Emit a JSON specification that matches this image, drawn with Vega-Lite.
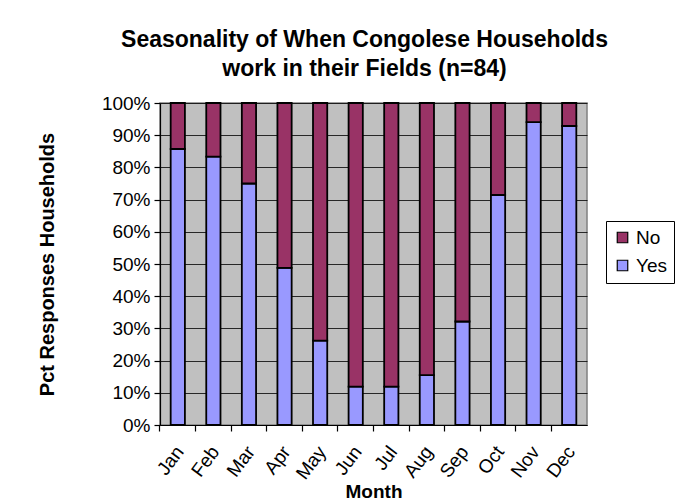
{
  "$schema": "https://vega.github.io/schema/vega-lite/v6.json",
  "autosize": "none",
  "width": 427,
  "height": 322,
  "padding": {"left": 160, "top": 103, "right": 104, "bottom": 79},
  "background": "white",
  "title": {
    "text": ["Seasonality of When Congolese Households", "work in their Fields (n=84)"],
    "font": "Liberation Sans",
    "fontSize": 23,
    "fontWeight": "bold",
    "color": "black",
    "lineHeight": 29,
    "anchor": "middle",
    "frame": "group",
    "dx": -9,
    "offset": 13
  },
  "data": {
    "values": [
      {"month": "Jan", "response": "Yes", "count": 72}, {"month": "Jan", "response": "No", "count": 12},
      {"month": "Feb", "response": "Yes", "count": 70}, {"month": "Feb", "response": "No", "count": 14},
      {"month": "Mar", "response": "Yes", "count": 63}, {"month": "Mar", "response": "No", "count": 21},
      {"month": "Apr", "response": "Yes", "count": 41}, {"month": "Apr", "response": "No", "count": 43},
      {"month": "May", "response": "Yes", "count": 22}, {"month": "May", "response": "No", "count": 62},
      {"month": "Jun", "response": "Yes", "count": 10}, {"month": "Jun", "response": "No", "count": 74},
      {"month": "Jul", "response": "Yes", "count": 10}, {"month": "Jul", "response": "No", "count": 74},
      {"month": "Aug", "response": "Yes", "count": 13}, {"month": "Aug", "response": "No", "count": 71},
      {"month": "Sep", "response": "Yes", "count": 27}, {"month": "Sep", "response": "No", "count": 57},
      {"month": "Oct", "response": "Yes", "count": 60}, {"month": "Oct", "response": "No", "count": 24},
      {"month": "Nov", "response": "Yes", "count": 79}, {"month": "Nov", "response": "No", "count": 5},
      {"month": "Dec", "response": "Yes", "count": 78}, {"month": "Dec", "response": "No", "count": 6}
    ]
  },
  "mark": {"type": "bar", "stroke": "black", "strokeWidth": 1.8},
  "encoding": {
    "x": {
      "field": "month",
      "type": "nominal",
      "sort": ["Jan", "Feb", "Mar", "Apr", "May", "Jun", "Jul", "Aug", "Sep", "Oct", "Nov", "Dec"],
      "scale": {"paddingInner": 0.6, "paddingOuter": 0.3},
      "axis": {
        "title": "Month",
        "labelAngle": -53,
        "bandPosition": -0.75,
        "labelOffset": 2,
        "tickSize": 6,
        "labelPadding": 17,
        "titlePadding": 0
      }
    },
    "y": {
      "aggregate": "sum",
      "field": "count",
      "type": "quantitative",
      "stack": "normalize",
      "scale": {"domain": [0, 1], "nice": false},
      "axis": {
        "title": "Pct Responses Households",
        "format": ".0%",
        "values": [0, 0.1, 0.2, 0.3, 0.4, 0.5, 0.6, 0.7, 0.8, 0.9, 1],
        "tickSize": 6,
        "labelPadding": 4,
        "titlePadding": 44,
        "titleFontSize": 20
      }
    },
    "color": {
      "field": "response",
      "type": "nominal",
      "scale": {"domain": ["No", "Yes"], "range": ["#993366", "#9999FF"]},
      "legend": {
        "title": null,
        "orient": "none",
        "legendX": 446,
        "legendY": 118,
        "symbolType": "square",
        "symbolSize": 110,
        "symbolStrokeColor": "black",
        "symbolStrokeWidth": 1.2,
        "symbolOpacity": 1,
        "labelFontSize": 19,
        "labelFont": "Liberation Sans",
        "labelColor": "black",
        "rowPadding": 8,
        "padding": 7,
        "fillColor": "white",
        "strokeColor": "black"
      }
    },
    "order": {"field": "response", "sort": "descending"}
  },
  "config": {
    "view": {"fill": "#C0C0C0", "stroke": "#808080", "strokeWidth": 1.5},
    "axis": {
      "labelFont": "Liberation Sans",
      "labelFontSize": 19,
      "labelColor": "black",
      "titleFont": "Liberation Sans",
      "titleFontSize": 19,
      "titleFontWeight": "bold",
      "titleColor": "black",
      "domainColor": "black",
      "domainWidth": 1.2,
      "tickColor": "black",
      "tickWidth": 1.2,
      "gridColor": "black",
      "gridWidth": 1,
      "gridOpacity": 0.8
    },
    "axisX": {"grid": false},
    "axisY": {"grid": true}
  }
}
